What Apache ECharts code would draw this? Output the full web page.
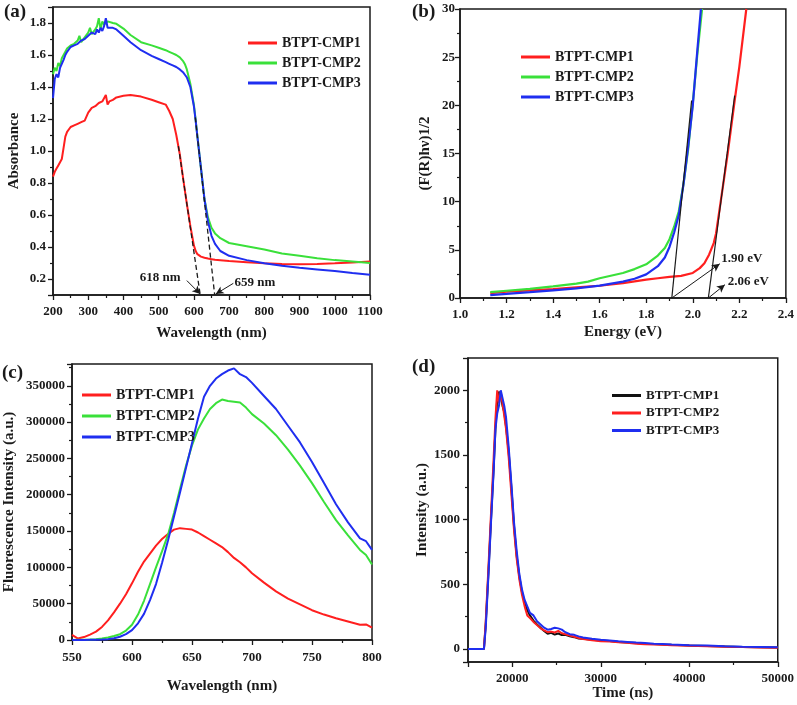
<!DOCTYPE html>
<html lang="en">
<head>
  <meta charset="UTF-8">
  <title>BTPT-CMP optical data</title>
  <style>
    html, body { margin: 0; padding: 0; background: #fff; }
    #main { width: 797px; height: 705px; }
  </style>
</head>
<body>
  <div id="main"></div>
  <script src="https://cdn.jsdelivr.net/npm/echarts@6/dist/echarts.min.js"></script>
  <script>
    var seriesNames = ['BTPT-CMP1', 'BTPT-CMP2', 'BTPT-CMP3'];

    // (a) UV-vis absorbance
    var absWavelength = [200, 205, 210, 215, 220, 225, 230, 235, 240, 250, 260, 270, 275, 280, 290,
      300, 305, 310, 320, 325, 330, 335, 340, 345, 350, 355, 360, 370, 380,
      400, 420, 450, 480, 500, 520, 530, 540, 550, 560, 570, 575, 580, 590,
      600, 605, 610, 620, 630, 640, 650, 660, 675, 700,
      750, 800, 850, 900, 950, 1000, 1050, 1100];
    var absCmp1 = [0.84, 0.87, 0.89, 0.91, 0.93, 0.95, 1.02, 1.09, 1.12, 1.15, 1.16, 1.17, 1.16, 1.18, 1.19,
      1.24, 1.25, 1.27, 1.28, 1.29, 1.30, 1.29, 1.31, 1.30, 1.35, 1.29, 1.31, 1.32, 1.335,
      1.345, 1.35, 1.34, 1.32, 1.305, 1.29, 1.25, 1.20, 1.10, 0.98, 0.82, 0.745, 0.67, 0.53,
      0.41, 0.375, 0.355, 0.34, 0.333, 0.328, 0.324, 0.32, 0.317, 0.312,
      0.305, 0.298, 0.293, 0.292, 0.294, 0.298, 0.303, 0.31];
    var absCmp2 = [1.48, 1.52, 1.50, 1.55, 1.53, 1.58, 1.60, 1.62, 1.64, 1.66, 1.67, 1.69, 1.72, 1.68, 1.71,
      1.74, 1.77, 1.73, 1.76, 1.78, 1.83, 1.76, 1.81, 1.79, 1.80, 1.81, 1.805, 1.80, 1.795,
      1.765, 1.725, 1.68, 1.66, 1.645, 1.63, 1.62, 1.61, 1.60, 1.585, 1.56, 1.54, 1.51, 1.42,
      1.29, 1.195, 1.09, 0.895, 0.70, 0.585, 0.52, 0.485, 0.455, 0.425,
      0.405, 0.385, 0.36, 0.345, 0.33, 0.318, 0.31, 0.30];
    var absCmp3 = [1.33, 1.45, 1.48, 1.46, 1.52, 1.53, 1.57, 1.60, 1.62, 1.65, 1.66, 1.67, 1.68, 1.69, 1.70,
      1.72, 1.71, 1.74, 1.73, 1.76, 1.74, 1.77, 1.75, 1.78, 1.83, 1.77, 1.775, 1.77, 1.76,
      1.72, 1.68, 1.63, 1.595, 1.575, 1.555, 1.545, 1.535, 1.525, 1.51, 1.49, 1.475, 1.46, 1.40,
      1.28, 1.19, 1.09, 0.895, 0.70, 0.56, 0.47, 0.42, 0.375, 0.345,
      0.318, 0.298, 0.283, 0.27, 0.26, 0.25, 0.238, 0.227];
    var absOnsetLines = [[[556, 1.03], [618, 0.1]], [[604, 1.21], [659, 0.1]]];
    var absOnsetLabels = [['618 nm', 504, 0.21], ['659 nm', 773, 0.18]];
    var absOnsetArrows = [[[580, 0.19], [618, 0.106]], [[712, 0.173], [662, 0.106]]];

    // (b) Tauc plot
    var taucEnergy1 = [1.13, 1.2, 1.3, 1.4, 1.5, 1.6, 1.7, 1.8, 1.85, 1.9, 1.95, 2.0, 2.03, 2.05, 2.07, 2.09, 2.1, 2.12, 2.15, 2.18, 2.2, 2.23];
    var taucCmp1 = [0.5, 0.65, 0.8, 0.93, 1.1, 1.27, 1.55, 1.9, 2.05, 2.2, 2.3, 2.6, 3.1, 3.6, 4.5, 5.7, 6.7, 10.0, 15.0, 20.5, 24.0, 30];
    var taucEnergy2 = [1.13, 1.2, 1.3, 1.4, 1.5, 1.55, 1.6, 1.7, 1.75, 1.8, 1.85, 1.88, 1.9, 1.92, 1.94, 1.96, 1.98, 2.0, 2.02, 2.04];
    var taucCmp2 = [0.6, 0.75, 0.95, 1.2, 1.5, 1.7, 2.05, 2.6, 3.0, 3.5, 4.4, 5.2, 6.1, 7.4, 9.0, 11.8, 15.4, 20.2, 25.4, 30];
    var taucEnergy3 = [1.13, 1.2, 1.3, 1.4, 1.5, 1.6, 1.7, 1.75, 1.8, 1.85, 1.88, 1.9, 1.92, 1.94, 1.96, 1.98, 2.0, 2.02, 2.035];
    var taucCmp3 = [0.3, 0.42, 0.6, 0.8, 1.0, 1.28, 1.7, 2.0, 2.45, 3.3, 4.2, 5.3, 6.8, 8.6, 11.8, 15.7, 20.0, 25.8, 30];
    var taucFitLines = [[[1.91, 0], [1.995, 20.5]], [[2.067, 0], [2.18, 21]]];
    var taucGapLabels = [['1.90 eV', 2.211, 4.04], ['2.06 eV', 2.239, 1.73]];
    var taucGapArrows = [[[1.91, 0], [2.116, 3.55]], [[2.067, 0], [2.138, 1.38]]];

    // (c) photoluminescence
    var plWavelength = [550, 555, 560, 565, 570, 575, 580, 585, 590, 595, 600, 605, 610, 615, 620, 625,
      630, 635, 640, 645, 650, 655, 660, 665, 670, 675, 680, 685, 690, 695, 700,
      710, 720, 730, 740, 750, 760, 770, 780, 790, 795, 800];
    var plCmp1 = [7000, 2000, 4000, 7500, 11500, 18000, 27000, 38000, 50000, 63000, 78000, 94000, 108000, 119000, 130000, 139000,
      146000, 152000, 154000, 153000, 152000, 148000, 143000, 138000, 133000, 128000, 121000, 113000, 107000, 100000, 92000,
      79000, 67000, 57000, 49000, 41000, 35000, 30000, 25500, 21000, 21500, 17000];
    var plCmp2 = [0, 200, 400, 700, 1200, 2000, 3500, 5500, 8000, 13000, 21000, 35000, 54000, 77000, 100000, 122000,
      145000, 175000, 208000, 240000, 268000, 290000, 305000, 318000, 326000, 331000, 329000, 328000, 327000, 320000, 311000,
      298000, 282000, 262000, 240000, 216000, 190000, 165000, 144000, 124000, 117000, 104000];
    var plCmp3 = [0, 0, 100, 300, 500, 800, 1200, 2500, 4500, 8000, 13500, 23000, 36000, 55000, 77000, 106000,
      137000, 170000, 203000, 237000, 271000, 305000, 335000, 350000, 360000, 366000, 371000, 374000, 366000, 362000, 354000,
      336000, 318000, 295000, 272000, 245000, 216000, 187000, 162000, 140000, 136000, 124000];

    // (d) time-resolved decay
    var decayTime = [15000, 16000, 16800, 17000, 17300, 17600, 17900, 18100, 18300, 18500, 18700, 18900, 19100, 19300, 19600, 19900,
      20200, 20500, 20800, 21100, 21400, 21700, 22000, 22400, 22800, 23200, 23600, 24000, 24400, 24800, 25200, 25600,
      26000, 26500, 27000, 27500, 28000, 29000, 30000, 31000, 32000, 33000, 34000, 35000, 36000, 37000, 38000,
      40000, 42000, 44000, 46000, 48000, 50000];
    var decayCmp1 = [0, 0, 0, 190, 580, 1000, 1400, 1700, 1930, 1990, 1960, 1880, 1830, 1720, 1520, 1250,
      950, 720, 560, 440, 360, 300, 260, 220, 190, 165, 140, 118, 125, 112, 120, 108,
      110, 98, 92, 82, 80, 72, 66, 62, 55, 50, 46, 42, 40, 36, 33,
      28, 24, 20, 16, 14, 12];
    var decayCmp2 = [0, 0, 0, 210, 620, 1050, 1480, 1780, 2000, 1900, 1990, 1900, 1800, 1700, 1480, 1200,
      920, 700, 540, 420, 330, 260, 240, 210, 185, 160, 145, 130, 135, 128, 140, 122,
      115, 105, 95, 85, 78, 68, 60, 58, 52, 48, 42, 38, 35, 33, 30,
      26, 22, 18, 15, 12, 10];
    var decayCmp3 = [0, 0, 0, 160, 560, 980, 1380, 1700, 1820, 1880, 2000, 1990, 1880, 1790, 1560, 1280,
      980, 760, 580, 460, 380, 330, 280, 260, 215, 190, 165, 150, 155, 165, 160, 150,
      130, 115, 110, 98, 90, 80, 72, 66, 60, 55, 50, 47, 42, 40, 36,
      30, 27, 22, 18, 16, 14];

    var FONT = '"Liberation Serif", "Times New Roman", serif';
    var INK = '#1a1a1a';
    var colorsRGB = ['#ff1f1f', '#3ae03a', '#1f2ef0'];
    var colorsDecay = ['#111111', '#ff1f1f', '#1f2ef0'];

    function pairs(xs, ys) {
      return xs.map(function (x, i) { return [x, ys[i]]; });
    }

    function axis(gridIndex, min, max, interval, name, nameGap, margin, digits) {
      var a = {
        gridIndex: gridIndex,
        type: 'value',
        min: min,
        max: max,
        name: name,
        nameLocation: 'middle',
        nameGap: nameGap,
        nameTextStyle: { color: INK, fontFamily: FONT, fontWeight: 'bold', fontSize: 15 },
        axisLine: { show: true, onZero: false, lineStyle: { color: INK, width: 1.5 } },
        axisTick: { show: true, length: 5, lineStyle: { color: INK, width: 1.3 } },
        minorTick: { show: true, splitNumber: 2, length: 3, lineStyle: { color: INK, width: 1.2 } },
        splitLine: { show: false },
        axisLabel: {
          color: INK, fontFamily: FONT, fontWeight: 'bold', fontSize: 13, margin: margin,
          showMinLabel: true, showMaxLabel: true,
          formatter: function (v) { return digits ? v.toFixed(digits) : String(v); }
        }
      };
      if (interval) a.interval = interval;
      return a;
    }

    function line(name, data, color, xi, lw) {
      return {
        name: name, type: 'line', xAxisIndex: xi, yAxisIndex: xi,
        data: data, showSymbol: false, symbol: 'none',
        lineStyle: { color: color, width: lw || 2 }, itemStyle: { color: color },
        silent: true
      };
    }

    function legend(left, top, colors, gap, size) {
      return {
        left: left, top: top, padding: 0, orient: 'vertical', selectedMode: false,
        icon: 'rect', itemWidth: 29, itemHeight: 3, itemGap: gap,
        textStyle: { color: INK, fontFamily: FONT, fontWeight: 'bold', fontSize: size, lineHeight: size },
        data: seriesNames.map(function (n, i) { return { name: n, itemStyle: { color: colors[i] } }; })
      };
    }

    // annotation text plus arrows / fit lines for a panel
    function notes(xi, labels, arrows, fits, dashed) {
      var lines = fits.map(function (s) {
        return [{ coord: s[0], symbol: 'none' }, { coord: s[1], symbol: 'none' }];
      });
      return [{
        type: 'scatter', xAxisIndex: xi, yAxisIndex: xi, silent: true,
        symbolSize: 1, itemStyle: { color: 'rgba(0,0,0,0)', opacity: 1 },
        data: labels.map(function (l) { return { name: l[0], value: [l[1], l[2]] }; }),
        label: { show: true, position: 'inside', formatter: '{b}', color: INK, opacity: 1, textBorderWidth: 0,
          fontFamily: FONT, fontWeight: 'bold', fontSize: 13 },
        markLine: {
          silent: true, symbol: ['none', 'arrow'], symbolSize: [6, 8],
          label: { show: false },
          lineStyle: { color: INK, width: 1, type: 'solid' },
          data: arrows.map(function (s) { return [{ coord: s[0] }, { coord: s[1] }]; })
        }
      }, {
        type: 'scatter', xAxisIndex: xi, yAxisIndex: xi, silent: true,
        symbolSize: 1, itemStyle: { color: 'rgba(0,0,0,0)' },
        data: [fits[0][0]],
        markLine: {
          silent: true, symbol: 'none',
          label: { show: false },
          lineStyle: { color: INK, width: dashed ? 1.3 : 1.2, type: dashed ? [5, 3] : 'solid' },
          data: lines
        }
      }];
    }

    var chart = echarts.init(document.getElementById('main'), null, { renderer: 'canvas' });

    var panelTitle = function (text, left, top) {
      return { text: text, left: left, top: top, padding: 0,
        textStyle: { color: INK, fontFamily: FONT, fontWeight: 'bold', fontSize: 19 } };
    };

    var yA = axis(0, 0.1, 1.9, null, 'Absorbance', 31, 7, 1);
    yA.splitNumber = 9;
    yA.axisLabel.showMinLabel = false;
    yA.axisLabel.showMaxLabel = false;
    var yC = axis(2, 0, 380000, 50000, 'Fluorescence Intensity (a.u.)', 55, 7, 0);
    yC.axisLabel.showMaxLabel = false;
    var xD = axis(3, 15000, 50000, null, 'Time (ns)', 24, 10, 0);
    xD.splitNumber = 4;
    xD.axisLabel.showMinLabel = false;
    var yD = axis(3, -100, 2250, null, 'Intensity (a.u.)', 37, 8, 0);
    yD.splitNumber = 5;
    yD.axisLabel.showMinLabel = false;
    yD.axisLabel.showMaxLabel = false;

    var series = [];
    [absCmp1, absCmp2, absCmp3].forEach(function (ys, i) {
      series.push(line(seriesNames[i], pairs(absWavelength, ys), colorsRGB[i], 0));
    });
    series = series.concat(notes(0, absOnsetLabels, absOnsetArrows, absOnsetLines, true));
    [[taucEnergy1, taucCmp1], [taucEnergy2, taucCmp2], [taucEnergy3, taucCmp3]].forEach(function (d, i) {
      series.push(line(seriesNames[i], pairs(d[0], d[1]), colorsRGB[i], 1, 2.2));
    });
    series = series.concat(notes(1, taucGapLabels, taucGapArrows, taucFitLines, false));
    [plCmp1, plCmp2, plCmp3].forEach(function (ys, i) {
      series.push(line(seriesNames[i], pairs(plWavelength, ys), colorsRGB[i], 2));
    });
    [decayCmp1, decayCmp2, decayCmp3].forEach(function (ys, i) {
      series.push(line(seriesNames[i], pairs(decayTime, ys), colorsDecay[i], 3));
    });

    var frame = { show: true, borderColor: INK, borderWidth: 1.5, backgroundColor: 'transparent' };

    chart.setOption({
      animation: false,
      backgroundColor: '#ffffff',
      title: [
        panelTitle('(a)', 4, 3),
        panelTitle('(b)', 412, 3),
        panelTitle('(c)', 2, 364),
        panelTitle('(d)', 412, 358)
      ],
      grid: [
        Object.assign({ left: 53, top: 7, width: 317, height: 288 }, frame),
        Object.assign({ left: 460, top: 9, width: 326, height: 289 }, frame),
        Object.assign({ left: 72, top: 364, width: 300, height: 276 }, frame),
        Object.assign({ left: 468, top: 358, width: 310, height: 304 }, frame)
      ],
      legend: [
        legend(248, 36, colorsRGB, 6, 14),
        legend(521, 50, colorsRGB, 6, 14),
        legend(82, 388, colorsRGB, 7, 14),
        legend(612, 389, colorsDecay, 4.5, 13)
      ],
      xAxis: [
        axis(0, 200, 1100, 100, 'Wavelength (nm)', 31, 10, 0),
        axis(1, 1.0, 2.4, 0.2, 'Energy (eV)', 27, 10, 1),
        axis(2, 550, 800, 50, 'Wavelength (nm)', 39, 11, 0),
        xD
      ],
      yAxis: [
        yA,
        axis(1, 0, 30, 5, '(F(R)hν)1/2', 27, 5, 0),
        yC,
        yD
      ],
      series: series
    });
  </script>
</body>
</html>
